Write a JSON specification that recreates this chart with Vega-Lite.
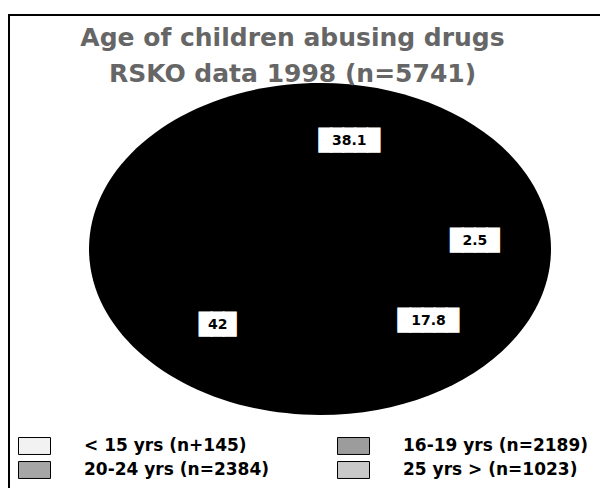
{
  "$schema": "https://vega.github.io/schema/vega-lite/v6.json",
  "width": 593,
  "height": 475,
  "autosize": {"type": "none"},
  "padding": {"left": 9, "top": 15, "right": -2, "bottom": -2},
  "background": "white",
  "view": {"stroke": "black", "strokeWidth": 2, "fill": "white"},
  "title": {
    "text": "Age of children abusing drugs",
    "subtitle": "RSKO data 1998 (n=5741)",
    "anchor": "middle",
    "offset": -72,
    "dx": -13,
    "font": "DejaVu Sans",
    "fontSize": 25,
    "fontWeight": "bold",
    "color": "#666666",
    "subtitleFont": "DejaVu Sans",
    "subtitleFontSize": 25,
    "subtitleFontWeight": "bold",
    "subtitleColor": "#666666",
    "subtitlePadding": 11
  },
  "datasets": {
    "groups": [
      {"group": "< 15 yrs (n+145)", "n": 145, "pct": 2.5},
      {"group": "16-19 yrs (n=2189)", "n": 2189, "pct": 38.1},
      {"group": "20-24 yrs (n=2384)", "n": 2384, "pct": 42},
      {"group": "25 yrs > (n=1023)", "n": 1023, "pct": 17.8}
    ],
    "total": [{"n": 5741}]
  },
  "layer": [
    {
      "data": {"name": "groups"},
      "mark": {"type": "point", "filled": true, "opacity": 1, "size": 20},
      "encoding": {
        "fill": {
          "field": "group",
          "type": "nominal",
          "scale": {
            "domain": ["< 15 yrs (n+145)", "16-19 yrs (n=2189)", "20-24 yrs (n=2384)", "25 yrs > (n=1023)"],
            "range": ["#f2f2f2", "#9c9c9c", "#a6a6a6", "#c9c9c9"]
          },
          "legend": {
            "title": null,
            "orient": "bottom-left",
            "offset": 9,
            "columns": 2,
            "direction": "horizontal",
            "symbolType": "M -1 -0.53 H 1 V 0.53 H -1 Z",
            "symbolSize": 1024,
            "symbolStrokeColor": "black",
            "symbolStrokeWidth": 1,
            "symbolOpacity": 1,
            "labelFont": "DejaVu Sans",
            "labelFontSize": 17,
            "labelFontWeight": "bold",
            "labelColor": "black",
            "labelOffset": 33,
            "labelLimit": 400,
            "clipHeight": 22,
            "columnPadding": 68,
            "rowPadding": 2,
            "padding": 0
          }
        }
      }
    },
    {
      "data": {"name": "total"},
      "mark": {
        "type": "point",
        "shape": "M -0.9372 -0.0152 A 1 0.7186 0 1 0 1.0628 -0.0152 A 1 0.7186 0 1 0 -0.9372 -0.0152 Z",
        "size": 213444,
        "filled": true,
        "fill": "black",
        "strokeWidth": 0,
        "opacity": 1
      },
      "encoding": {}
    },
    {
      "data": {"name": "groups"},
      "mark": {
        "type": "text",
        "radius": {"expr": "1 / sqrt(pow(sin(scale('theta', (datum.pct_start + datum.pct_end) / 2)) / 155, 2) + pow(cos(scale('theta', (datum.pct_start + datum.pct_end) / 2)) / 106, 2))"},
        "font": "DejaVu Sans Mono",
        "fontSize": 20,
        "fill": "white",
        "stroke": "white",
        "strokeWidth": 1.5,
        "baseline": "middle",
        "align": "center",
        "dx": 14.5,
        "dy": -7.5
      },
      "encoding": {
        "theta": {"field": "pct", "type": "quantitative", "stack": true, "scale": {"range": [1.4668, -4.8164]}},
        "order": {"field": "group", "type": "nominal"},
        "text": {
          "condition": [
            {"test": "length(toString(datum.pct)) <= 2", "value": "███"},
            {"test": "length(toString(datum.pct)) == 3", "value": "████"}
          ],
          "value": "█████"
        }
      }
    },
    {
      "data": {"name": "groups"},
      "mark": {
        "type": "text",
        "radius": {"expr": "1 / sqrt(pow(sin(scale('theta', (datum.pct_start + datum.pct_end) / 2)) / 155, 2) + pow(cos(scale('theta', (datum.pct_start + datum.pct_end) / 2)) / 106, 2))"},
        "font": "DejaVu Sans",
        "fontSize": 14,
        "fontWeight": "bold",
        "fill": "black",
        "baseline": "middle",
        "align": "center",
        "dx": 14.5,
        "dy": -7.5
      },
      "encoding": {
        "theta": {"field": "pct", "type": "quantitative", "stack": true},
        "order": {"field": "group", "type": "nominal"},
        "text": {"field": "pct", "type": "nominal"}
      }
    }
  ]
}
